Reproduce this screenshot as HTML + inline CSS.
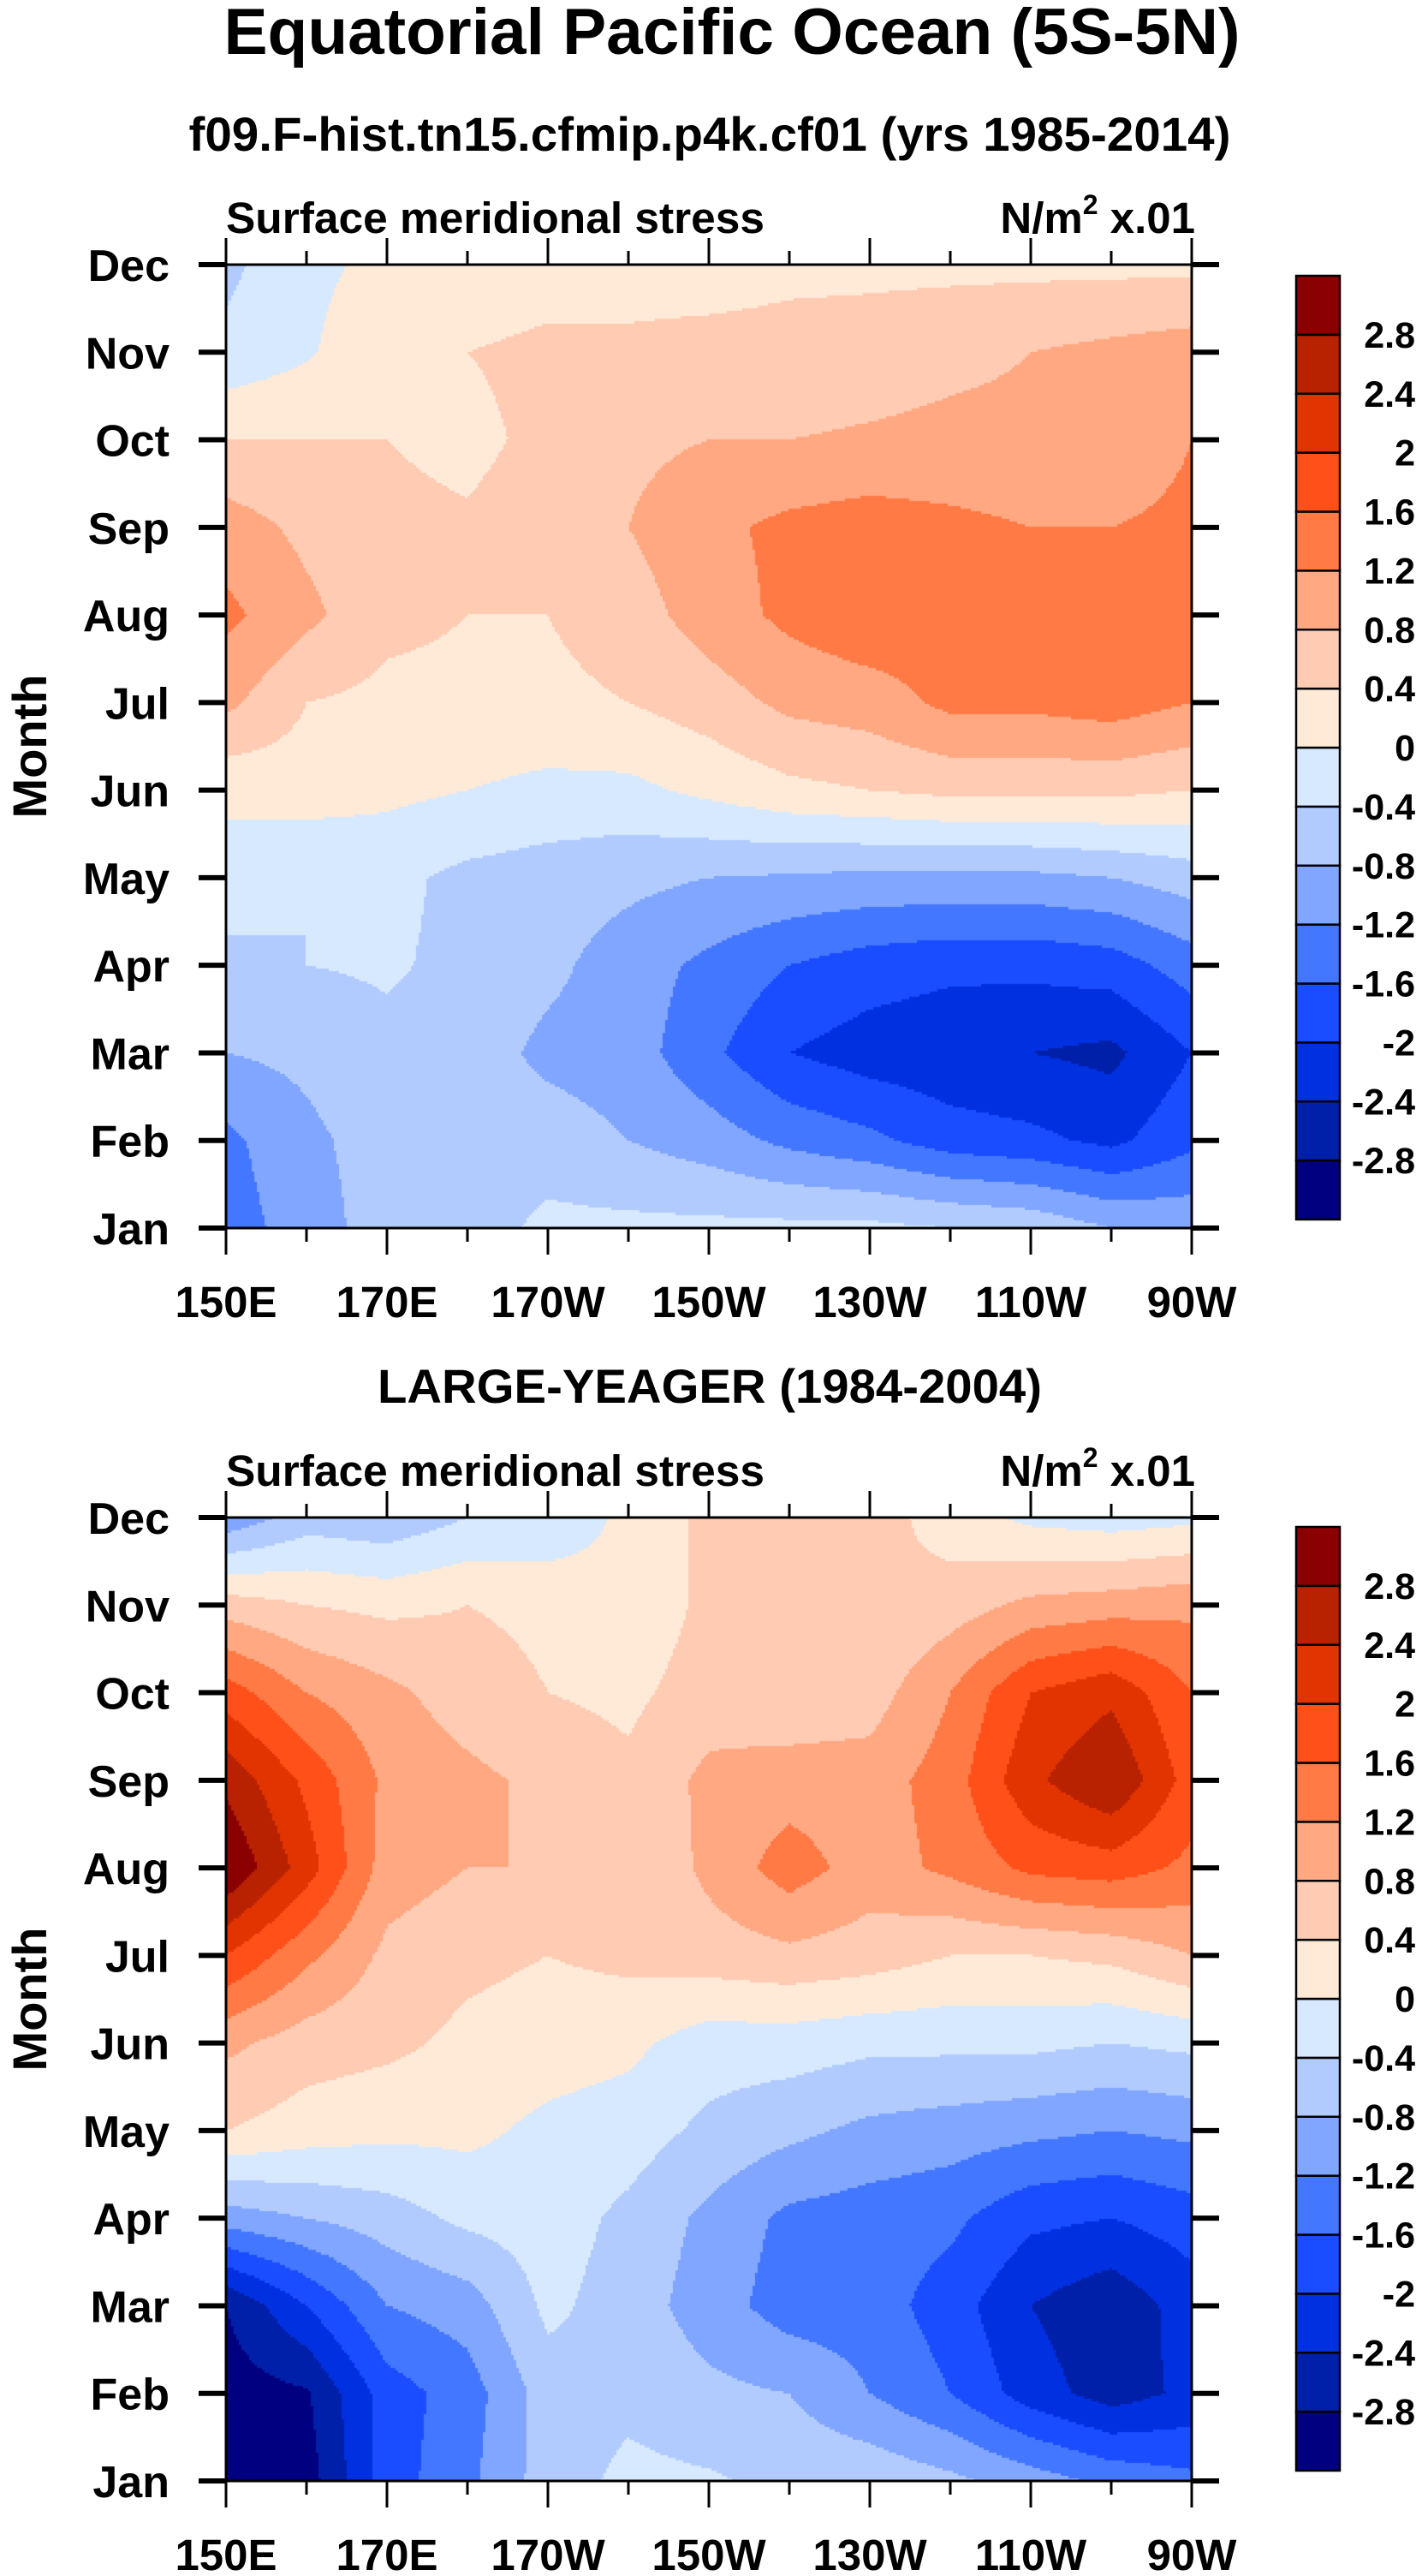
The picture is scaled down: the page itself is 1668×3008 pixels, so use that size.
<!DOCTYPE html>
<html><head><meta charset="utf-8">
<style>
html,body{margin:0;padding:0;background:#fff;}
#root{position:relative;width:1668px;height:3008px;overflow:hidden;}
canvas{position:absolute;}
svg{position:absolute;left:0;top:0;}
text{font-family:"Liberation Sans",Arial,sans-serif;font-weight:bold;fill:#000;}
</style></head>
<body>
<div id="root">
<canvas id="c1" width="1128" height="1125" style="left:264px;top:309px"></canvas>
<canvas id="c2" width="1128" height="1125" style="left:264px;top:1772px"></canvas>
<svg id="ov" width="1668" height="3008">
<text x="855" y="63" font-size="76" text-anchor="middle" textLength="1187" lengthAdjust="spacingAndGlyphs">Equatorial Pacific Ocean (5S-5N)</text>
<text x="829" y="176" font-size="56" text-anchor="middle" textLength="1217" lengthAdjust="spacingAndGlyphs">f09.F-hist.tn15.cfmip.p4k.cf01 (yrs 1985-2014)</text>
<text x="829" y="1638" font-size="56" text-anchor="middle" textLength="776" lengthAdjust="spacingAndGlyphs">LARGE-YEAGER (1984-2004)</text>
</svg>
</div>
<script>
const lonTicks=[150,170,190,210,230,250,270];
const lonTickLabels=["150E","170E","170W","150W","130W","110W","90W"];
const lons=[150,160,170,180,190,200,210,220,230,240,250,260,270];
const months=["Jan","Feb","Mar","Apr","May","Jun","Jul","Aug","Sep","Oct","Nov","Dec"];
const levels=[-2.8,-2.4,-2,-1.6,-1.2,-0.8,-0.4,0,0.4,0.8,1.2,1.6,2,2.4,2.8];
const levelLabels=["-2.8","-2.4","-2","-1.6","-1.2","-0.8","-0.4","0","0.4","0.8","1.2","1.6","2","2.4","2.8"];
const colors=["#000080","#0020aa","#0030e0","#1a4dff","#4477ff","#80a6ff","#b2cbff","#d6e9ff","#ffead8","#ffcbb3","#ffa882","#ff7a45","#ff5019","#e23400","#b82200","#8b0000"];
// rows: Jan..Dec, columns: lons
const topValues=[
[-1.4,-1.0,-0.6,-0.6,-0.3,-0.3,-0.3,-0.3,-0.3,-0.4,-0.5,-0.8,-0.9],
[-1.3,-0.9,-0.6,-0.6,-0.6,-0.8,-1.0,-1.3,-1.5,-1.8,-1.9,-2.1,-1.7],
[-0.8,-0.7,-0.5,-0.6,-0.9,-1.0,-1.5,-2.0,-2.2,-2.3,-2.4,-2.5,-2.0],
[-0.5,-0.4,-0.35,-0.5,-0.7,-1.0,-1.3,-1.6,-1.8,-1.9,-1.9,-1.8,-1.4],
[-0.2,-0.4,-0.3,-0.5,-0.6,-0.7,-0.8,-0.85,-0.9,-0.9,-0.9,-0.8,-0.6],
[0.1,0.2,0.1,0.0,-0.1,-0.1,0.1,0.3,0.4,0.5,0.5,0.5,0.4],
[0.9,0.4,0.3,0.3,0.3,0.4,0.6,0.9,1.0,1.3,1.3,1.4,1.2],
[1.3,0.9,0.5,0.4,0.4,0.6,1.0,1.3,1.5,1.4,1.3,1.3,1.3],
[1.0,0.7,0.5,0.45,0.6,0.8,1.1,1.3,1.4,1.3,1.2,1.2,1.3],
[0.4,0.4,0.4,0.3,0.5,0.7,0.8,0.8,0.85,0.9,0.9,0.9,1.2],
[-0.3,-0.05,0.3,0.4,0.5,0.5,0.55,0.55,0.6,0.7,0.8,0.9,1.0],
[-0.5,-0.1,0.1,0.1,0.2,0.2,0.2,0.3,0.3,0.3,0.3,0.3,0.3]
];
const bottomValues=[
[-3.0,-3.0,-1.8,-1.3,-0.6,-0.3,-0.35,-0.5,-0.5,-0.7,-1.0,-1.3,-1.5],
[-3.0,-2.85,-1.8,-1.4,-0.6,-0.5,-0.7,-0.8,-1.2,-1.6,-2.2,-2.6,-2.3],
[-2.8,-2.0,-1.2,-1.0,-0.3,-0.6,-1.0,-1.4,-1.4,-1.8,-2.4,-2.7,-2.2],
[-1.0,-0.8,-0.6,-0.3,-0.2,-0.5,-0.9,-1.3,-1.4,-1.5,-1.9,-2.0,-1.8],
[0.4,0.2,0.1,0.1,-0.1,-0.2,-0.5,-0.7,-0.9,-1.0,-1.1,-1.2,-1.1],
[0.9,0.6,0.5,0.3,0.2,0.1,-0.2,-0.2,-0.3,-0.3,-0.3,-0.4,-0.3],
[2.0,1.3,0.7,0.5,0.4,0.5,0.6,0.7,0.6,0.4,0.4,0.5,0.8],
[3.2,2.2,1.0,0.8,0.8,0.4,0.9,1.4,1.0,1.3,1.7,1.8,1.5],
[2.7,1.9,1.1,0.9,0.7,0.5,0.9,1.0,1.0,1.4,2.3,2.8,1.8],
[1.8,1.2,0.9,0.6,0.4,0.3,0.6,0.5,0.6,1.2,2.0,2.3,1.6],
[0.6,0.4,0.3,0.4,0.3,0.1,0.5,0.5,0.4,0.6,0.9,1.0,1.1],
[-1.1,-0.6,-0.7,-0.4,-0.3,0.1,0.5,0.6,0.6,0.2,-0.1,-0.2,-0.1]
];

const PX0=264, PW=1128, PH=1125;
function xScale(lon){return (lon-lons[0])/(lons[lons.length-1]-lons[0])*PW;}
function yScale(mi){return PH-mi/(months.length-1)*PH;}
function colorFor(v){let i=0;while(i<levels.length&&v>=levels[i])i++;return colors[i];}
function sample(vals,lon,mi){
  const fx=(lon-lons[0])/(lons[1]-lons[0]);
  let i=Math.min(Math.floor(fx),lons.length-2), j=Math.min(Math.floor(mi),months.length-2);
  const tx=fx-i, ty=mi-j;
  const a=vals[j][i],b=vals[j][i+1],c=vals[j+1][i],d=vals[j+1][i+1];
  return (a*(1-tx)+b*tx)*(1-ty)+(c*(1-tx)+d*tx)*ty;
}
function drawField(id,vals){
  const ctx=document.getElementById(id).getContext('2d');
  const st=3;
  for(let py=0;py<PH;py+=st){
    const mi=(PH-(py+st/2))/PH*(months.length-1);
    for(let px=0;px<PW;px+=st){
      const lon=lons[0]+(px+st/2)/PW*(lons[lons.length-1]-lons[0]);
      ctx.fillStyle=colorFor(sample(vals,lon,mi));
      ctx.fillRect(px,py,st,st);
    }
  }
}
drawField('c1',topValues);
drawField('c2',bottomValues);

const NS='http://www.w3.org/2000/svg';
const svg=document.getElementById('ov');
function mk(tag,attrs,parent){const e=document.createElementNS(NS,tag);for(const k in attrs)e.setAttribute(k,attrs[k]);(parent||svg).appendChild(e);return e;}

function drawPanel(top,cbTop,tag){
  const g=mk('g',{});
  
  
  const bottom=top+PH;
  const s1=mk('text',{x:PX0,y:top-37,'font-size':51,textLength:629,lengthAdjust:'spacingAndGlyphs'},g);
  s1.textContent='Surface meridional stress';
  
  
  const s2=mk('text',{x:1396,y:top-37,'font-size':51,'text-anchor':'end'},g);
  s2.innerHTML='N/m<tspan dy="-22" font-size="32">2</tspan><tspan dy="22"> x.01</tspan>';
  
  
  const fr=mk('rect',{x:PX0,y:top,width:PW,height:PH,fill:'none',stroke:'#000','stroke-width':3},g);
  
  
  for(let lon=150;lon<=270;lon+=10){
    const x=PX0+xScale(lon);
    const major=(lon-150)%20===0;
    const L=major?31:16;
    const t1=mk('line',{x1:x,y1:top,x2:x,y2:top-L,stroke:'#000','stroke-width':3},g);
    
    
    const t2=mk('line',{x1:x,y1:bottom,x2:x,y2:bottom+L,stroke:'#000','stroke-width':3},g);
    
    
  }
  lonTicks.forEach((lon,k)=>{
    const t=mk('text',{x:PX0+xScale(lon),y:bottom+104,'font-size':51,'text-anchor':'middle'},g);
    t.textContent=lonTickLabels[k];
    
    
  });
  months.forEach((m,k)=>{
    const y=top+yScale(k);
    const a=mk('line',{x1:PX0-32,y1:y,x2:PX0,y2:y,stroke:'#000','stroke-width':6},g);
    
    
    const b=mk('line',{x1:PX0+PW,y1:y,x2:PX0+PW+32,y2:y,stroke:'#000','stroke-width':6},g);
    
    
    const t=mk('text',{x:198,y:y+19,'font-size':52,'text-anchor':'end'},g);
    t.textContent=m;
    
    
  });
  const yt=mk('text',{x:0,y:0,'font-size':56,'text-anchor':'middle',transform:'translate(54,'+(top+PH/2)+') rotate(-90)'},g);
  yt.textContent='Month';
  
  
  const cbX=1514,cbW=51,cbH=1102,n=colors.length,bh=cbH/n;
  for(let i=0;i<n;i++){
    const r=mk('rect',{x:cbX,y:cbTop+cbH-(i+1)*bh,width:cbW,height:bh,fill:colors[i],stroke:'#000','stroke-width':2.5},g);
    
    
  }
  levelLabels.forEach((lb,i)=>{
    const y=cbTop+cbH-(i+1)*bh;
    const t=mk('text',{x:1653,y:y+15,'font-size':43,'text-anchor':'end'},g);
    t.textContent=lb;
    
    
  });
}
drawPanel(309,322,'top');
drawPanel(1772,1783,'bottom');
</script>
</body></html>
